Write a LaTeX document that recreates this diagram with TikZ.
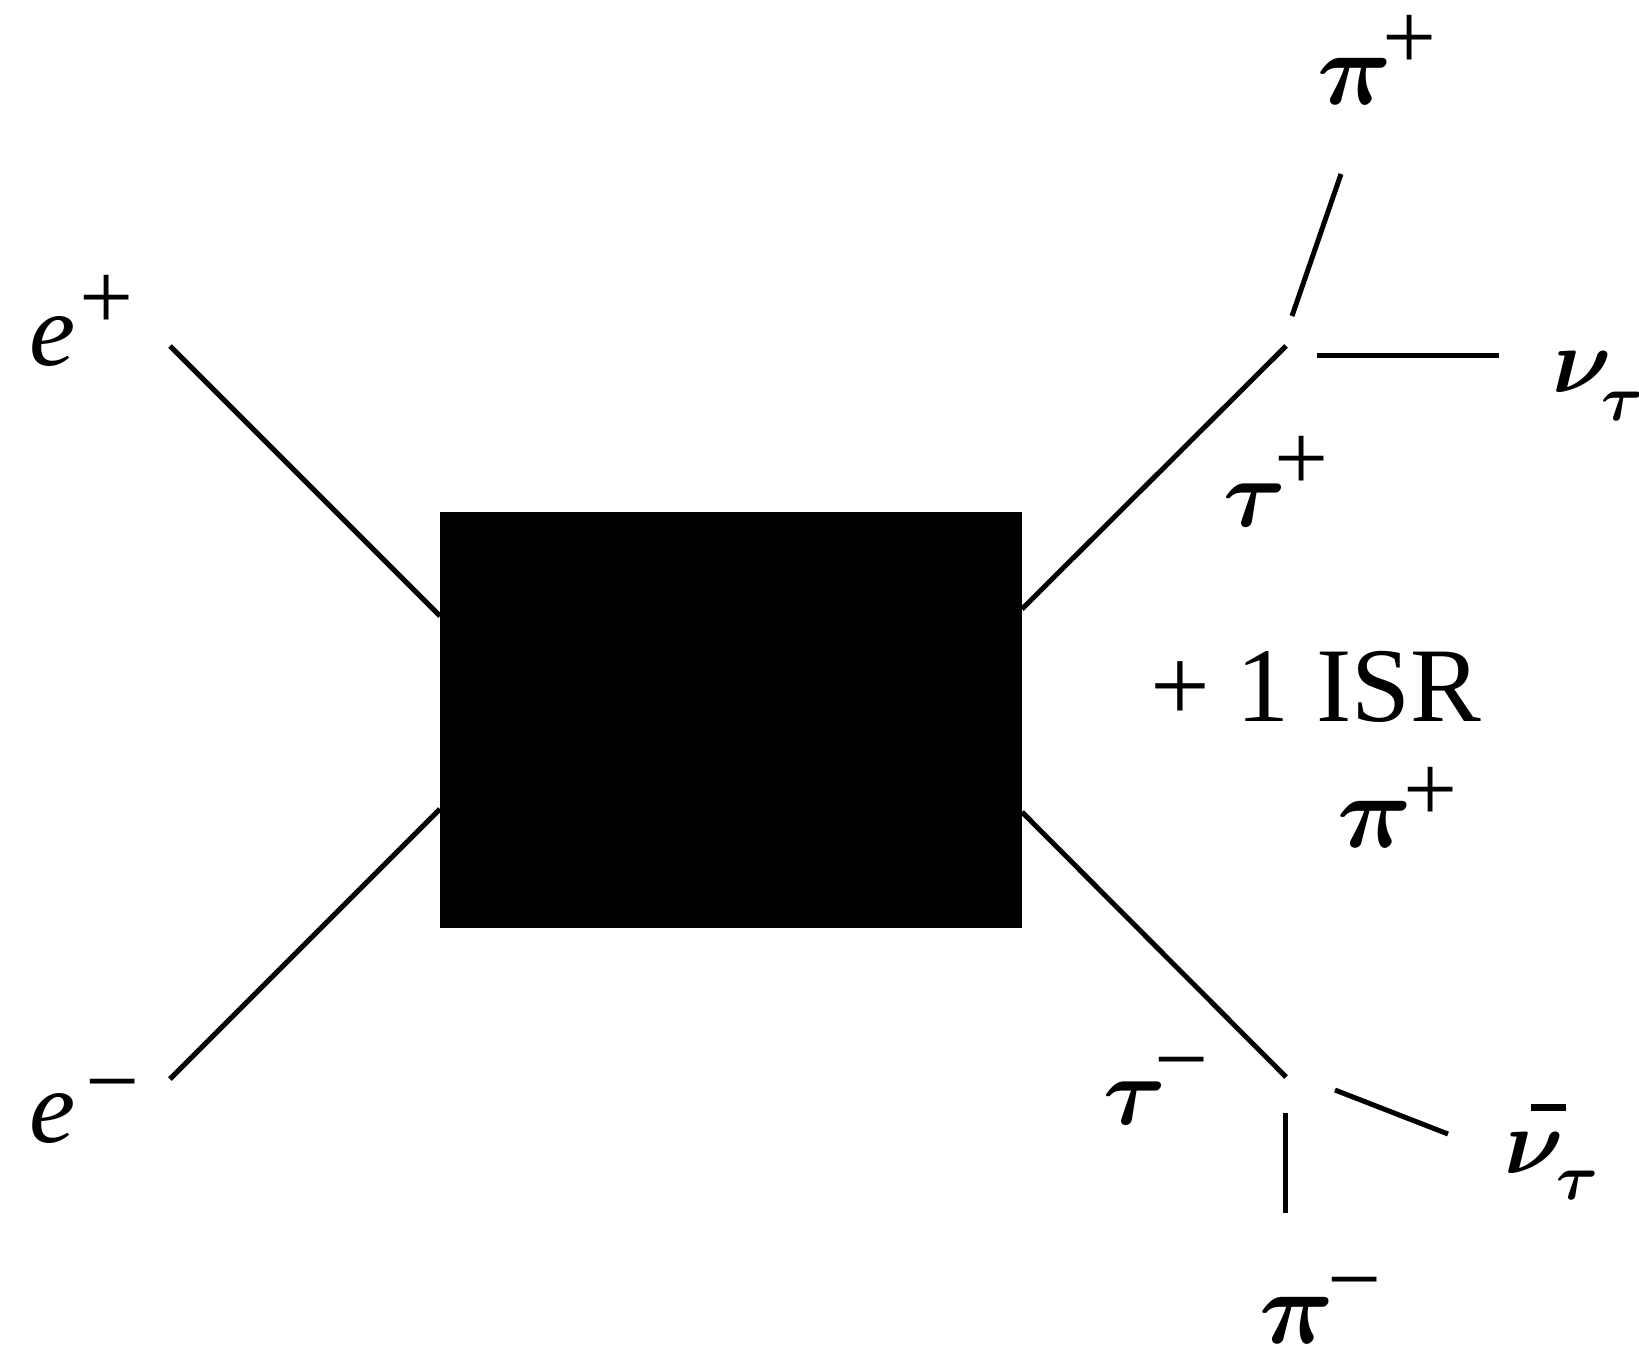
\documentclass[tikz,border=0pt]{standalone}
\usepackage[no-math]{fontspec}
\setmainfont{Liberation Serif}
\DeclareFontFamily{OML}{cmm}{\skewchar\font'177}
\DeclareFontShape{OML}{cmm}{m}{it}{<->cmmi10}{}
\DeclareFontShape{OML}{cmm}{b}{it}{<->cmmib10}{}
\newcommand\supx[3]{\kern#1\raisebox{#2}{\fontsize{48}{48}\selectfont\upshape #3}}
\newcommand\subx[3]{\kern#1\raisebox{-#2}{\fontsize{32}{32}\selectfont\boldmath$#3$}}
\newcommand\gk[2]{{\fontsize{#1}{#1}\selectfont\boldmath$#2$}}
\begin{document}
\begin{tikzpicture}[x=0.5pt,y=-0.5pt,
  lbl/.style={anchor=base west, inner sep=0pt, font=\fontsize{52}{52}\selectfont\itshape},
  txt/.style={anchor=base west, inner sep=0pt, font=\fontsize{53}{53}\selectfont},
  ln/.style={line width=2.5pt, line cap=butt},
  blobbox/.style={rectangle, fill=black, draw=none, inner sep=0pt, minimum width=291pt, minimum height=208pt}]
\path[use as bounding box] (0,0) rectangle (1639,1355);

% central blob
\node[blobbox] (blob) at (731,720) {};

% labels
\node[lbl] (eplus)  at (29,365)   {e\supx{2pt}{18pt}{+}};
\node[lbl] (eminus) at (29,1142)  {e\supx{5pt}{14.5pt}{−}};
\node[lbl] (tauplus) at (1223,526) {\gk{48}{\tau}\supx{-6pt}{18pt}{+}};
\node[lbl] (piplustop) at (1317,104) {\gk{52}{\pi}\supx{-5pt}{17.5pt}{+}};
\node[lbl] (nutau) at (1552,392) {\gk{46}{\nu}\subx{-5pt}{14pt}{\tau}};
\node[txt] (isr) at (1150,721) {+ 1 ISR};
\node[lbl] (piplus2) at (1337,847) {\gk{52}{\pi}\supx{-4.5pt}{13pt}{+}};
\node[lbl] (tauminus) at (1103,1124) {\gk{48}{\tau}\supx{-6pt}{16.5pt}{−}};
\node[lbl] (nubar) at (1504,1173) {\gk{46}{\nu}\rlap{\kern-16.5pt\raisebox{31pt}{\rule{17.5pt}{3.5pt}}}\subx{-3.5pt}{13pt}{\tau}};
\node[lbl] (piminus) at (1259,1343) {\gk{52}{\pi}\supx{-3.5pt}{16pt}{−}};

% line end points
\coordinate (a1) at (170,346);
\coordinate (a2) at (440,616);
\coordinate (b1) at (170,1079);
\coordinate (b2) at (440,809);
\coordinate (c1) at (1022,609);
\coordinate (c2) at (1286,346);
\coordinate (d1) at (1292,316);
\coordinate (d2) at (1341,174);
\coordinate (f1) at (1317,355);
\coordinate (f2) at (1499,355);
\coordinate (g1) at (1022,812);
\coordinate (g2) at (1286,1077);
\coordinate (h1) at (1335,1090);
\coordinate (h2) at (1448,1134);
\coordinate (k1) at (1285,1113);
\coordinate (k2) at (1285,1213);

\draw[ln] (a1) -- (a2);
\draw[ln] (b1) -- (b2);
\draw[ln] (c1) -- (c2);
\draw[ln] (d1) -- (d2);
\draw[ln] (f1) -- (f2);
\draw[ln] (g1) -- (g2);
\draw[ln] (h1) -- (h2);
\draw[ln] (k1) -- (k2);
\end{tikzpicture}
\end{document}
